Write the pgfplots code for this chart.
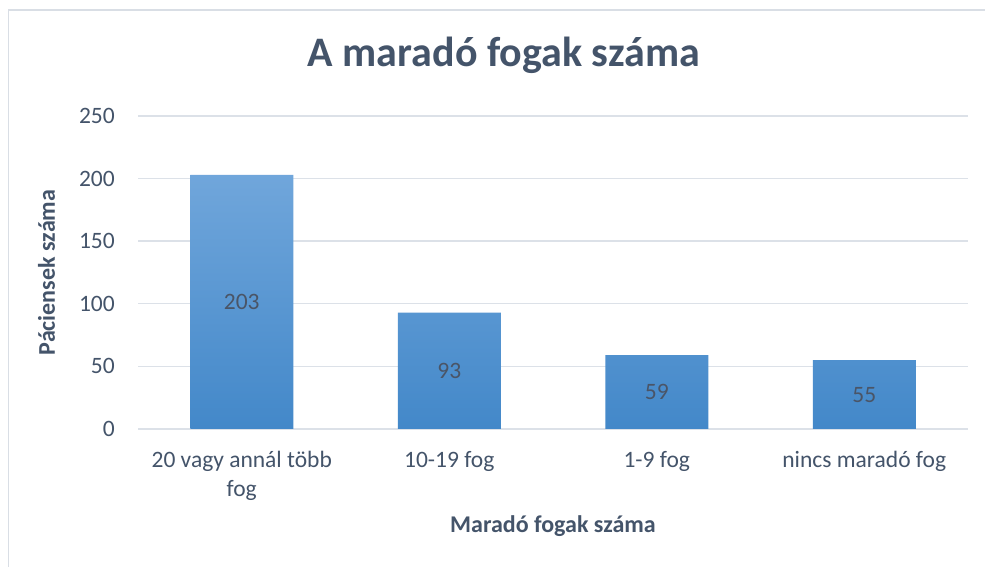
\documentclass[border=0pt]{standalone}
\usepackage{fontspec}
\setmainfont{Carlito}
\usepackage{pgfplots}
\pgfplotsset{compat=1.18}

\definecolor{textc}{HTML}{44546A}
\definecolor{labc}{HTML}{4A5567}
\definecolor{gridc}{HTML}{DCE1E8}
\definecolor{framec}{HTML}{D9DEE5}
\definecolor{bartop}{HTML}{70A6DB}
\definecolor{barbot}{HTML}{4388C9}

\begin{document}
\begin{tikzpicture}
  \useasboundingbox (0,0) rectangle (986pt,567pt);
  \fill[white] (0,0) rectangle (986pt,567pt);
  \draw[framec, line width=1.5pt] (8.5pt,0pt) -- (8.5pt,557pt) -- (985pt,557pt);
  \begin{axis}[
    at={(138pt,138pt)}, anchor=south west,
    scale only axis, width=830pt, height=313pt,
    xmin=-0.5, xmax=3.5, ymin=0, ymax=250,
    xtick={0,1,2,3},
    xticklabels={{20 vagy annál több\\fog},{10-19 fog},{1-9 fog},{nincs maradó fog}},
    ytick={0,50,...,250},
    axis line style={draw=none},
    major tick length=0pt,
    ymajorgrids,
    grid style={gridc, line width=1.4pt},
    /pgf/number format/assume math mode=true,
    ticklabel style={font=\fontsize{23.5}{28.6}\selectfont, text=textc, inner sep=0pt},
    xticklabel style={align=center, anchor=north, yshift=-22pt},
    yticklabel style={anchor=east, xshift=-23pt},
    title={A maradó fogak száma},
    title style={at={(axis description cs:0.441,1.138)}, anchor=base,
      font=\fontsize{42}{50}\selectfont\bfseries, text=textc},
    xlabel={Maradó fogak száma},
    xlabel style={at={(axis description cs:0.5,-0.332)}, anchor=base,
      font=\fontsize{24}{29}\selectfont\bfseries, text=textc},
    ylabel={Páciensek száma},
    ylabel style={at={(axis description cs:-0.1,0.5)}, rotate=0, anchor=base,
      font=\fontsize{24}{29}\selectfont\bfseries, text=textc},
  ]
    \addplot[ybar, bar width=103pt, draw=none, top color=bartop, bottom color=barbot,
      visualization depends on={rawy \as \ry},
      nodes near coords,
      every node near coord/.style={anchor=center, yshift={-0.626pt*\ry},
        font=\fontsize{23.5}{28.6}\selectfont, text=labc}]
      coordinates {(0,203) (1,93) (2,59) (3,55)};
  \end{axis}
\end{tikzpicture}
\end{document}
